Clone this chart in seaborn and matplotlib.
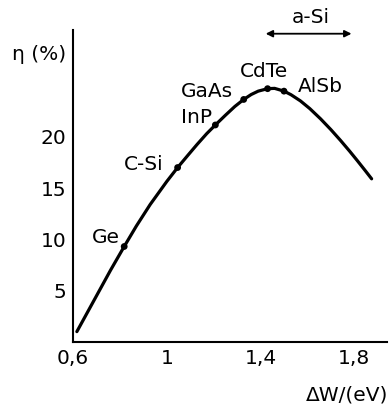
import matplotlib
matplotlib.use("Agg")
import matplotlib.pyplot as plt
import seaborn as sns
import pandas as pd

# curve: band gap (eV) vs efficiency (%)
curve_w = [0.616, 0.70, 0.76, 0.818, 0.87, 0.929, 1.0, 1.046, 1.09, 1.129,
           1.17, 1.207, 1.25, 1.29, 1.328, 1.36, 1.39, 1.43, 1.46, 1.50,
           1.53, 1.57, 1.61, 1.656, 1.70, 1.741, 1.78, 1.812, 1.845, 1.874]
curve_eta = [1.0, 4.5, 7.0, 9.3, 11.3, 13.4, 15.65, 17.0, 18.2, 19.25,
             20.3, 21.15, 22.1, 22.95, 23.64, 24.12, 24.45, 24.69, 24.72, 24.45,
             24.1, 23.5, 22.75, 21.75, 20.7, 19.65, 18.6, 17.7, 16.75, 15.9]

materials = ["Ge", "C-Si", "InP", "GaAs", "CdTe", "AlSb"]
mat_w = [0.818, 1.046, 1.207, 1.328, 1.43, 1.50]
mat_eta = [9.3, 17.0, 21.15, 23.64, 24.69, 24.45]
label_pos = [(0.741, 10.15), (0.903, 17.3), (1.126, 21.85), (1.173, 24.4),
             (1.414, 26.4), (1.655, 24.9)]

xticks = [0.6, 1.0, 1.4, 1.8]
xtick_labels = ["0,6", "1", "1,4", "1,8"]
yticks = [5, 10, 15, 20]

asi_range = [1.41, 1.80]

sns.set_style("white")
plt.rcParams['font.family'] = ['DejaVu Sans']
plt.rcParams['text.color'] = 'black'
plt.rcParams['xtick.color'] = 'black'
plt.rcParams['ytick.color'] = 'black'

fs = 14.5

fig = plt.figure(figsize=(3.91, 4.07), dpi=100)
ax = fig.add_axes([0.187, 0.160, 0.803, 0.766])

curve = pd.DataFrame({"w": curve_w, "eta": curve_eta})
sns.lineplot(data=curve, x="w", y="eta", ax=ax, color="black", lw=2.3,
             solid_capstyle="round", solid_joinstyle="round")
pts = pd.DataFrame({"w": mat_w, "eta": mat_eta})
sns.scatterplot(data=pts, x="w", y="eta", ax=ax, color="black", s=24,
                edgecolor="none", zorder=3)

for name, (lx, ly) in zip(materials, label_pos):
    ax.text(lx, ly, name, fontsize=fs, ha="center", va="center")

ax.annotate("", xy=(asi_range[0], 30.05), xytext=(asi_range[1], 30.05),
            arrowprops=dict(arrowstyle="<|-|>", color="black", lw=1.3,
                            mutation_scale=10), annotation_clip=False)
ax.text(sum(asi_range) / 2 + 0.01, 31.6, "a-Si", fontsize=fs, ha="center",
        va="center", clip_on=False)

ax.set_xlim(0.6, 1.94)
ax.set_ylim(0, 30.4)
ax.set_xticks(xticks)
ax.set_xticklabels(xtick_labels)
ax.set_yticks(yticks)
ax.tick_params(direction="inout", length=6, width=1, labelsize=fs, pad=2)
ax.set_xlabel("")
ax.set_ylabel("")
for side in ["top", "right"]:
    ax.spines[side].set_visible(False)
for side in ["left", "bottom"]:
    ax.spines[side].set_color("black")
    ax.spines[side].set_linewidth(1.5)

fig.text(0.10, 0.865, "η (%)", fontsize=fs, ha="center", va="center")
fig.text(0.992, 0.03, "ΔW/(eV)", fontsize=fs, ha="right", va="center")

fig.savefig("out.png", dpi=100)
plt.close(fig)
